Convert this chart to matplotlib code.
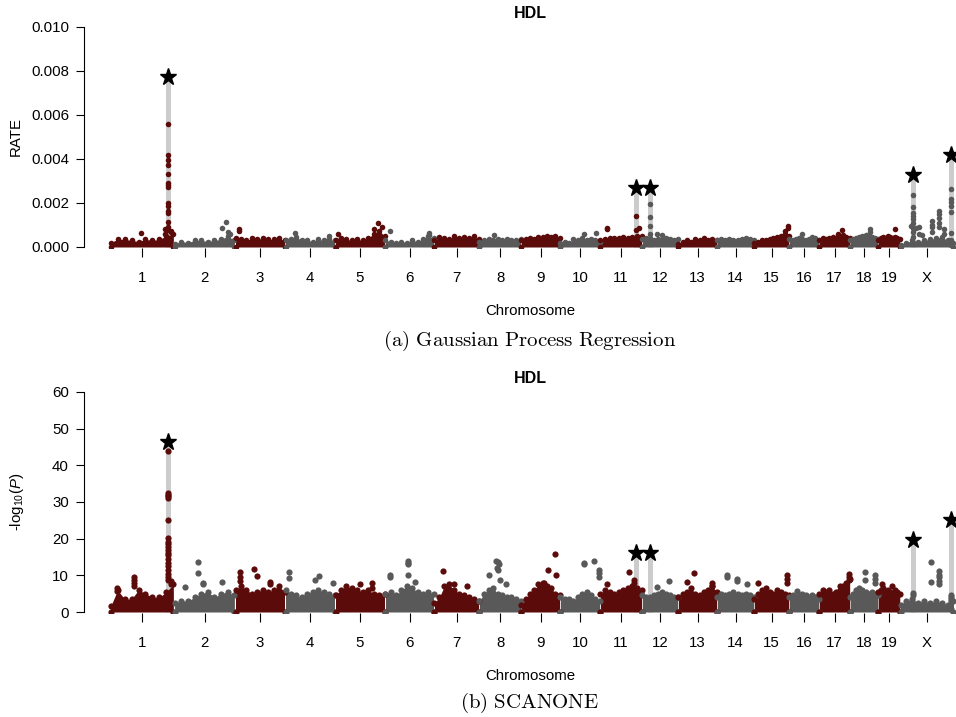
import numpy as np
import matplotlib.pyplot as plt

plt.rcParams['font.family'] = ['Liberation Sans', 'DejaVu Sans']
plt.rcParams['mathtext.fontset'] = 'custom'
plt.rcParams['mathtext.rm'] = 'Liberation Sans'
plt.rcParams['mathtext.it'] = 'Liberation Sans:italic'

# chromosome names and lengths (map units)
chroms = [str(i) for i in range(1, 20)] + ['X']
chrom_len = [96, 91.5, 75, 75, 75, 73.5, 67.5, 63, 58.5, 60, 63, 54, 58.5, 55.5, 52.5, 45, 46.5, 42, 33, 81]

# GP regression RATE (x 1e-3): top of the dense cloud, evenly along each chromosome
gp_cloud = [
    [0.2, 0.35, 0.35, 0.3, 0.25, 0.35, 0.3, 0.35, 0.5, 0.6],
    [0.15, 0.25, 0.2, 0.3, 0.3, 0.25, 0.3, 0.35, 0.5, 0.3],
    [0.4, 0.35, 0.3, 0.4, 0.35, 0.4, 0.35, 0.35, 0.4, 0.3],
    [0.3, 0.35, 0.45, 0.3, 0.3, 0.25, 0.35, 0.3, 0.35, 0.3],
    [0.3, 0.4, 0.35, 0.3, 0.35, 0.3, 0.4, 0.6, 0.75, 0.5],
    [0.3, 0.25, 0.2, 0.25, 0.2, 0.3, 0.25, 0.35, 0.5, 0.4],
    [0.3, 0.45, 0.4, 0.35, 0.5, 0.4, 0.45, 0.4, 0.5, 0.35],
    [0.25, 0.3, 0.35, 0.3, 0.35, 0.3, 0.35, 0.3, 0.3, 0.35],
    [0.3, 0.35, 0.4, 0.35, 0.45, 0.45, 0.5, 0.45, 0.5, 0.4],
    [0.2, 0.25, 0.2, 0.35, 0.3, 0.4, 0.3, 0.35, 0.3, 0.25],
    [0.3, 0.35, 0.4, 0.4, 0.4, 0.45, 0.4, 0.45, 0.5, 0.5],
    [0.35, 0.4, 0.4, 0.3, 0.35, 0.3, 0.4, 0.35, 0.3, 0.35],
    [0.15, 0.25, 0.3, 0.25, 0.35, 0.3, 0.4, 0.3, 0.35, 0.3],
    [0.3, 0.35, 0.3, 0.35, 0.3, 0.3, 0.35, 0.4, 0.35, 0.3],
    [0.2, 0.25, 0.3, 0.3, 0.35, 0.4, 0.45, 0.5, 0.6, 0.5],
    [0.35, 0.3, 0.35, 0.4, 0.35, 0.3, 0.35, 0.45, 0.4, 0.3],
    [0.3, 0.4, 0.35, 0.4, 0.45, 0.4, 0.5, 0.55, 0.45, 0.4],
    [0.3, 0.35, 0.4, 0.45, 0.5, 0.55, 0.5, 0.45, 0.4, 0.35],
    [0.3, 0.4, 0.45, 0.4, 0.5, 0.45, 0.4, 0.45, 0.4, 0.35],
    [0.1, 0.2, 0.3, 0.25, 0.3, 0.35, 0.4, 0.45, 0.3, 0.2],
]
# single markers above the cloud: (chromosome index, position fraction, values x 1e-3)
gp_hits = [
    (0, 0.48, [0.65]),
    (0, 0.90, [5.59, 4.18, 3.95, 3.73, 3.3, 2.9, 2.8, 2.71, 1.99, 1.88, 1.64, 1.53, 1.15, 0.92, 0.77]),
    (0, 0.86, [0.8, 0.6]), (0, 0.95, [0.75, 0.7]),
    (1, 0.85, [1.15]), (1, 0.79, [0.85]), (1, 0.92, [0.6]), (1, 0.89, [0.7]),
    (2, 0.08, [0.8, 0.75]),
    (3, 0.20, [0.65]), (3, 0.88, [0.5]),
    (4, 0.06, [0.6]), (4, 0.86, [1.1]), (4, 0.94, [0.9]), (4, 0.78, [0.8]),
    (5, 0.10, [0.75]), (5, 0.90, [0.65, 0.55]),
    (7, 0.36, [0.55]),
    (9, 0.60, [0.6]), (9, 0.90, [0.65]),
    (10, 0.17, [0.85, 0.8]), (10, 0.865, [1.4, 0.77]), (10, 0.93, [0.85]),
    (11, 0.23, [1.97, 1.36, 0.94, 0.58]), (11, 0.42, [0.6]), (11, 0.56, [0.55]),
    (14, 0.97, [0.97, 0.85]), (14, 0.89, [0.75]),
    (15, 0.43, [0.6]),
    (16, 0.74, [0.77]), (16, 0.61, [0.6]),
    (17, 0.71, [0.8, 0.7]),
    (18, 0.77, [0.8]),
    (19, 0.235, [2.36, 1.8, 1.56, 1.41, 1.29, 1.1, 0.85, 0.67, 0.47]),
    (19, 0.20, [0.95]), (19, 0.30, [0.85]), (19, 0.35, [0.9, 0.6]), (19, 0.40, [0.55]),
    (19, 0.59, [1.2, 1.0, 0.9, 0.7]),
    (19, 0.72, [1.65, 1.5, 1.3, 1.1, 0.9]),
    (19, 0.81, [0.8, 0.6]),
    (19, 0.945, [2.62, 2.2, 2.05, 1.86, 1.59, 0.65, 0.32, 0.1]),
]
# highlighted loci: (chromosome index, position fraction, star height x 1e-3)
gp_peaks = [(0, 0.90, 7.71), (10, 0.865, 2.67), (11, 0.23, 2.67), (19, 0.235, 3.26), (19, 0.945, 4.17)]

# SCANONE -log10(P)
sc_cloud = [
    [1.5, 6.0, 3.5, 3.5, 6.0, 5.0, 4.0, 4.0, 5.5, 7.5],
    [2.5, 3, 3, 4, 5, 5.5, 4, 5, 5.5, 4.5],
    [6, 7, 6, 5, 5.5, 6, 5.5, 6, 7, 5.5],
    [6, 5, 4.5, 4, 5, 5.5, 6, 5.5, 5, 4.5],
    [4.5, 6, 7, 6.5, 6, 5.5, 6, 5, 4.5, 5],
    [5, 5.5, 4.5, 6, 7, 6.5, 5.5, 5, 5.5, 5],
    [2.5, 4, 7, 7.5, 6, 5, 4.5, 4, 3.5, 3],
    [3, 5, 6, 6.5, 5, 4.5, 4, 4, 3.5, 3],
    [2, 3.5, 5, 6, 7.5, 8, 7, 6.5, 5, 4.5],
    [4, 3.5, 3.5, 3, 4, 5, 5.5, 4.5, 3.5, 3],
    [5, 6, 5.5, 5, 5.5, 6, 6.5, 7, 6.5, 6],
    [4.5, 4, 4, 4.5, 5, 5.5, 5, 4.5, 4, 4],
    [4, 5, 5.5, 6.5, 5, 4.5, 5.5, 6, 7, 5.5],
    [4, 5, 4.5, 5, 5.5, 5, 4.5, 5, 4.5, 4],
    [3.5, 5, 6, 6.5, 5.5, 5, 6, 5.5, 5, 4.5],
    [4, 4.5, 4, 4.5, 5, 4.5, 4, 4.5, 4, 3.5],
    [5, 6, 5.5, 6, 5, 5.5, 6, 7, 8, 9],
    [4, 5, 6, 6.5, 6, 5.5, 5, 5.5, 5, 4.5],
    [5.5, 6, 6.5, 5.5, 6, 5.5, 5, 6, 5.5, 5],
    [2, 3, 3.5, 2.5, 3, 2.5, 3, 2.5, 2, 3],
]
sc_hits = [
    (0, 0.375, [9.5, 8.7, 8, 7]), (0, 0.11, [6.5, 5.8]),
    (0, 0.90, [43.8, 32.5, 32, 31.5, 31, 25, 20.1, 19.2, 18.5, 17.8, 16.9, 16, 15.5, 14.4,
               13.4, 12.5, 11.5, 10.4, 9.5, 8.7]),
    (0, 0.95, [8.5, 7.5]),
    (1, 0.39, [13.7, 10.5]), (1, 0.18, [6.9]), (1, 0.48, [7.8, 7.5]), (1, 0.79, [8.3]),
    (2, 0.09, [10.8, 9.5, 8.5]), (2, 0.37, [11.6]), (2, 0.44, [9.9]), (2, 0.70, [8.3, 7.5]),
    (3, 0.07, [10.8, 9.2]), (3, 0.67, [9.9]), (3, 0.60, [8.6]), (3, 0.96, [7.8]),
    (4, 0.50, [7.5]), (4, 0.74, [7.8, 6.5]),
    (5, 0.10, [10.2, 9.5]), (5, 0.46, [13.8, 13.3, 13.1, 10.2]), (5, 0.61, [8.3]),
    (6, 0.20, [11.3]), (6, 0.44, [7.5]), (6, 0.73, [7]),
    (7, 0.40, [14.0]), (7, 0.45, [13.5, 11.5]), (7, 0.47, [13.0]), (7, 0.42, [12.0]),
    (7, 0.24, [10.1]), (7, 0.50, [8.8]), (7, 0.64, [7.6]),
    (8, 0.87, [15.7]), (8, 0.68, [11.5]), (8, 0.90, [10.2]), (8, 0.58, [8]),
    (9, 0.59, [13.3, 13]), (9, 0.84, [13.8]), (9, 0.97, [11.5, 10.5, 9.6]),
    (10, 0.68, [10.8]), (10, 0.80, [8.6, 8]), (10, 0.17, [7.5]),
    (11, 0.75, [8.4]), (11, 0.42, [6.7]),
    (12, 0.40, [10.5]), (12, 0.23, [8.2]), (12, 0.87, [8, 7]),
    (13, 0.27, [10.1, 9.5]), (13, 0.54, [9, 8.5]), (13, 0.81, [7.5]),
    (14, 0.10, [8]), (14, 0.94, [10, 9, 8]),
    (15, 0.27, [5.8]),
    (16, 0.96, [10.3, 9.5, 8.7]), (16, 0.68, [7]),
    (17, 0.52, [10.8, 8.6]), (17, 0.89, [10, 9, 8]),
    (18, 0.20, [7.5]), (18, 0.64, [7]),
    (19, 0.235, [5.2, 4.7]), (19, 0.57, [13.7, 8.2]), (19, 0.72, [11.2, 10.2, 9.5, 8.5, 7.7]),
    (19, 0.95, [4.7, 4, 3.5, 2.9, 0.7]),
]
sc_peaks = [(0, 0.90, 46.4), (10, 0.865, 16.2), (11, 0.23, 16.2), (19, 0.235, 19.6), (19, 0.95, 25.1)]

RED = '#5c0b0b'
GRAY = '#595959'
W, H = 956, 717
PX = 1.5  # map units per pixel
X0 = 110  # pixel of the first marker

starts = np.concatenate([[0], np.cumsum(chrom_len)[:-1]])
mids = starts + np.array(chrom_len) / 2


def fig_rect(left, top, right, bottom):
    return [left / W, 1 - bottom / H, (right - left) / W, (bottom - top) / H]


def draw_panel(ax, cloud, hits, peaks, scale, dot):
    for i, tops in enumerate(cloud):
        col = RED if i % 2 == 0 else GRAY
        fr = np.linspace(0.01, 0.99, len(tops))
        xs = starts[i] + fr * chrom_len[i]
        ys = np.array(tops) * scale
        ax.fill_between(xs, 0, ys, color=col, lw=0, zorder=2)
        ax.scatter(xs, ys, s=dot, color=col, lw=0, zorder=3)
        ax.scatter(xs[[0, -1]], [0, 0], s=dot, color=col, lw=0, zorder=3)
    for i, fr, vals in hits:
        col = RED if i % 2 == 0 else GRAY
        x = starts[i] + fr * chrom_len[i]
        ax.scatter([x] * len(vals), np.array(vals) * scale, s=dot, color=col, lw=0, zorder=3)
    for i, fr, v in peaks:
        x = starts[i] + fr * chrom_len[i]
        ax.vlines(x, 0, v * scale, color='#cccccc', lw=3.6, zorder=1)
        ax.plot(x, v * scale, marker='*', ms=12.5, color='black', mec='black', zorder=4)

    ax.set_xlim((84 - X0) * PX, (976 - X0) * PX)
    ax.set_xticks(mids)
    ax.set_xticklabels(chroms)
    for s in ['top', 'right', 'bottom']:
        ax.spines[s].set_visible(False)
    ax.tick_params(axis='x', direction='out', length=6.5, width=0.8, pad=10, labelsize=10.8)
    ax.tick_params(axis='y', direction='out', length=5.8, width=0.8, pad=5, labelsize=10.8)
    ax.spines['left'].set_linewidth(0.8)


fig = plt.figure(figsize=(W / 100, H / 100), dpi=100)

# (a) GP regression
ax1 = fig.add_axes(fig_rect(84, 20, 976, 248))
draw_panel(ax1, gp_cloud, gp_hits, gp_peaks, 1e-3, 16)
ax1.set_ylim(-1 / 22 * 1e-3, 227 / 22 * 1e-3)
ax1.set_yticks(np.arange(0, 0.0101, 0.002))
ax1.set_yticklabels(['%.3f' % v for v in np.arange(0, 0.0101, 0.002)])
ax1.spines['left'].set_bounds(0, 0.010)
fig.text(16 / W, 1 - 137 / H, 'RATE', rotation=90, ha='center', va='center', fontsize=10.8)
fig.text(530 / W, 1 - 13 / H, 'HDL', ha='center', va='center', fontsize=11.5, fontweight='bold')
fig.text(530 / W, 1 - 311 / H, 'Chromosome', ha='center', va='center', fontsize=10.8)
fig.text(530 / W, 1 - 341 / H, r'$\mathrm{(a)\ Gaussian\ Process\ Regression}$',
         ha='center', va='center', fontsize=15, math_fontfamily='cm')

# (b) SCANONE
ax2 = fig.add_axes(fig_rect(84, 385, 976, 613))
draw_panel(ax2, sc_cloud, sc_hits, sc_peaks, 1.0, 20)
ax2.set_ylim(-1 / 3.667, 227 / 3.667)
ax2.set_yticks(np.arange(0, 61, 10))
ax2.spines['left'].set_bounds(0, 60)
fig.text(17 / W, 1 - 502 / H, r'-log$_{10}$($P$)', rotation=90, ha='center', va='center', fontsize=10.8)
fig.text(530 / W, 1 - 378 / H, 'HDL', ha='center', va='center', fontsize=11.5, fontweight='bold')
fig.text(530 / W, 1 - 676 / H, 'Chromosome', ha='center', va='center', fontsize=10.8)
fig.text(530 / W, 1 - 703 / H, r'$\mathrm{(b)\ SCANONE}$',
         ha='center', va='center', fontsize=15, math_fontfamily='cm')

fig.savefig('out.png', dpi=100)
